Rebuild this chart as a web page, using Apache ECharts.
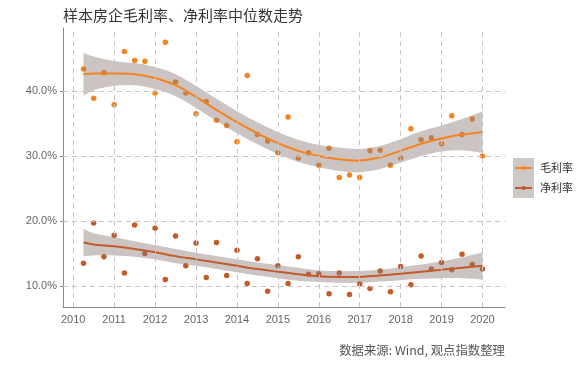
<!DOCTYPE html>
<html><head><meta charset="utf-8">
<script src="https://cdn.jsdelivr.net/npm/echarts@6/dist/echarts.min.js"></script>
<style>html,body{margin:0;padding:0;background:#fff}#c{width:580px;height:367px}</style>
</head><body><div id="c"></div>
<script>
const chartTitle = '样本房企毛利率、净利率中位数走势';
const caption = '数据来源: Wind, 观点指数整理';
const seriesNames = ['毛利率', '净利率'];
const quarters = [2010.25, 2010.5, 2010.75, 2011, 2011.25, 2011.5, 2011.75, 2012, 2012.25, 2012.5,
  2012.75, 2013, 2013.25, 2013.5, 2013.75, 2014, 2014.25, 2014.5, 2014.75, 2015,
  2015.25, 2015.5, 2015.75, 2016, 2016.25, 2016.5, 2016.75, 2017, 2017.25, 2017.5,
  2017.75, 2018, 2018.25, 2018.5, 2018.75, 2019, 2019.25, 2019.5, 2019.75, 2020];
const grossMargin = [43.4, 38.9, 42.8, 37.9, 46.1, 44.7, 44.6, 39.7, 47.5, 41.4,
  39.7, 36.5, 38.4, 35.5, 34.7, 32.2, 42.4, 33.3, 32.3, 30.5,
  36.0, 29.7, 30.5, 28.6, 31.2, 26.7, 27.1, 26.7, 30.8, 30.9,
  28.6, 29.7, 34.2, 32.5, 32.8, 31.9, 36.2, 33.3, 35.7, 30.0];
const netMargin = [13.5, 19.7, 14.5, 17.8, 12.0, 19.4, 15.0, 18.9, 11.0, 17.7,
  13.1, 16.6, 11.3, 16.7, 11.6, 15.5, 10.4, 14.2, 9.2, 13.1,
  10.4, 14.5, 11.8, 11.9, 8.8, 12.0, 8.7, 10.3, 9.6, 12.3,
  9.1, 13.0, 10.2, 14.6, 12.6, 13.6, 12.5, 14.9, 13.3, 12.6];
const fitYears = [2010.25, 2010.5, 2011, 2011.5, 2012, 2012.5, 2013, 2013.5, 2014, 2014.5,
  2015, 2015.5, 2016, 2016.5, 2017, 2017.5, 2018, 2018.5, 2019, 2019.5, 2020];
const grossFit = [42.6, 42.7, 42.7, 42.6, 42.0, 40.9, 39.1, 37.1, 35.2, 33.5,
  32.0, 30.8, 30.0, 29.5, 29.3, 29.8, 30.8, 31.9, 32.7, 33.3, 33.7];
const grossHalfBand = [3.3, 2.6, 1.9, 1.7, 1.7, 1.7, 1.7, 1.7, 1.7, 1.7,
  1.7, 1.7, 1.7, 1.8, 1.8, 1.8, 1.8, 1.9, 2.0, 2.4, 3.2];
const netFit = [16.7, 16.4, 16.1, 15.7, 15.2, 14.6, 14.1, 13.6, 13.1, 12.6,
  12.2, 11.8, 11.5, 11.4, 11.4, 11.6, 11.9, 12.2, 12.5, 12.8, 13.1];
const netHalfBand = [2.1, 1.7, 1.4, 1.2, 1.1, 1.1, 1.0, 1.0, 1.0, 1.0,
  1.0, 1.0, 0.9, 0.9, 0.9, 0.9, 1.0, 1.1, 1.3, 1.6, 2.1];
const xTicks = [2010, 2011, 2012, 2013, 2014, 2015, 2016, 2017, 2018, 2019, 2020];
const yTicks = [10, 20, 30, 40];

const GROSS = '#f5831f', NET = '#c25a2c';
const BAND = 'rgba(140,125,120,0.45)';
const pts = (xs, ys) => xs.map((x, i) => [x, ys[i]]);

// Catmull-Rom path segment through pixel points (curve only, no moveTo)
function curveThrough(p) {
  let d = '';
  for (let i = 0; i < p.length - 1; i++) {
    const p0 = p[i - 1] || p[i], p1 = p[i], p2 = p[i + 1], p3 = p[i + 2] || p[i + 1];
    const c1 = [p1[0] + (p2[0] - p0[0]) / 6, p1[1] + (p2[1] - p0[1]) / 6];
    const c2 = [p2[0] - (p3[0] - p1[0]) / 6, p2[1] - (p3[1] - p1[1]) / 6];
    d += ' C' + c1[0] + ' ' + c1[1] + ' ' + c2[0] + ' ' + c2[1] + ' ' + p2[0] + ' ' + p2[1];
  }
  return d;
}
function bandSeries(fit, half) {
  return {
    type: 'custom', data: [0], z: 3, silent: true,
    renderItem: (params, api) => {
      const up = fitYears.map((x, i) => api.coord([x, fit[i] + half[i]]));
      const lo = fitYears.map((x, i) => api.coord([x, fit[i] - half[i]])).reverse();
      const d = 'M' + up[0][0] + ' ' + up[0][1] + curveThrough(up) +
        ' L' + lo[0][0] + ' ' + lo[0][1] + curveThrough(lo) + ' Z';
      return {type: 'path', shape: {pathData: d}, style: {fill: BAND}};
    }
  };
}
function fitSeries(name, fit, color) {
  return {
    name: name, type: 'custom', data: [0], z: 4, silent: true,
    renderItem: (params, api) => {
      const p = fitYears.map((x, i) => api.coord([x, fit[i]]));
      const d = 'M' + p[0][0] + ' ' + p[0][1] + curveThrough(p);
      return {type: 'path', shape: {pathData: d}, style: {fill: null, stroke: color, lineWidth: 2}};
    }
  };
}

const chart = echarts.init(document.getElementById('c'), null, {renderer: 'canvas'});
const gridLine = {type: [5, 4], color: '#c4c4c4', width: 1};
const option = {
  animation: false,
  textStyle: {fontFamily: 'Liberation Sans'},
  title: {text: chartTitle, left: 58, top: 3,
    textStyle: {fontFamily: 'Noto Sans CJK SC', fontSize: 15, fontWeight: 'normal', color: '#333'}},
  grid: {left: 63, right: 75, top: 28, bottom: 60},
  xAxis: {type: 'value', min: 2009.75, max: 2020.55,
    axisLine: {show: true, lineStyle: {color: '#888'}},
    axisTick: {show: false},
    splitLine: {show: false},
    axisLabel: {customValues: xTicks, color: '#666', fontSize: 11, margin: 7,
      fontFamily: 'Liberation Sans', formatter: v => String(v)}},
  yAxis: {type: 'value', min: 6.77, max: 49.7,
    axisLine: {show: true, lineStyle: {color: '#888'}},
    axisTick: {show: true, customValues: yTicks, length: 3, lineStyle: {color: '#888'}},
    splitLine: {show: false},
    axisLabel: {customValues: yTicks, color: '#666', fontSize: 11, margin: 6,
      fontFamily: 'Liberation Sans', formatter: v => v.toFixed(1) + '%'}},
  graphic: [
    {type: 'rect', shape: {x: 513, y: 158, width: 21, height: 20}, style: {fill: '#cdc8c6'}},
    {type: 'rect', shape: {x: 513, y: 178, width: 21, height: 20}, style: {fill: '#cdc8c6'}},
    {type: 'line', shape: {x1: 515, y1: 168, x2: 532, y2: 168}, style: {stroke: GROSS, lineWidth: 2}},
    {type: 'circle', shape: {cx: 523.5, cy: 168, r: 2}, style: {fill: GROSS}},
    {type: 'line', shape: {x1: 515, y1: 188, x2: 532, y2: 188}, style: {stroke: NET, lineWidth: 2}},
    {type: 'circle', shape: {cx: 523.5, cy: 188, r: 2}, style: {fill: NET}},
    {type: 'text', x: 540, y: 168, style: {text: seriesNames[0], fill: '#333', fontSize: 11,
      fontFamily: 'Noto Sans CJK SC', verticalAlign: 'middle'}},
    {type: 'text', x: 540, y: 188, style: {text: seriesNames[1], fill: '#333', fontSize: 11,
      fontFamily: 'Noto Sans CJK SC', verticalAlign: 'middle'}},
    {type: 'text', right: 75, top: 344, style: {text: caption, fill: '#555', fontSize: 12.4,
      fontFamily: 'Noto Sans CJK SC'}}
  ],
  series: [
    {type: 'line', data: [], z: 1, silent: true,
      markLine: {silent: true, symbol: 'none', label: {show: false}, lineStyle: gridLine,
        data: xTicks.map(x => ({xAxis: x})).concat(yTicks.map(y => ({yAxis: y})))}},
    {name: seriesNames[0], type: 'scatter', data: pts(quarters, grossMargin), symbolSize: 5.5,
      itemStyle: {color: GROSS, opacity: 1}, z: 2},
    {name: seriesNames[1], type: 'scatter', data: pts(quarters, netMargin), symbolSize: 5.5,
      itemStyle: {color: NET, opacity: 1}, z: 2},
    bandSeries(grossFit, grossHalfBand),
    bandSeries(netFit, netHalfBand),
    fitSeries(seriesNames[0] + '拟合', grossFit, GROSS),
    fitSeries(seriesNames[1] + '拟合', netFit, NET)
  ]
};
chart.setOption(option);
</script></body></html>
